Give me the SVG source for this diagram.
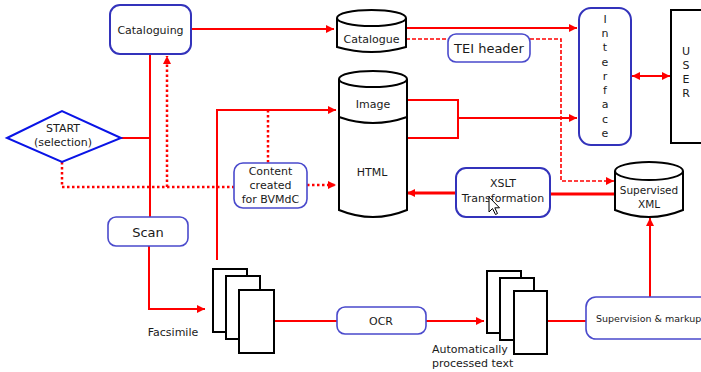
<svg xmlns="http://www.w3.org/2000/svg" width="701" height="372" viewBox="0 0 701 372">
<style>
text{font-family:"DejaVu Sans","Liberation Sans",sans-serif;font-size:11px;fill:#1a1a1a;text-anchor:middle}
.box{fill:#fff;stroke:#3333bb;stroke-width:2}
.lbox{fill:#fff;stroke:#4a4acc;stroke-width:1.6}
.cyl{fill:#fff;stroke:#000;stroke-width:2}
.page{fill:#fff;stroke:#000;stroke-width:2}
.r{fill:none;stroke:#ff0000;stroke-width:2}
.rt{fill:none;stroke:#ff0000;stroke-width:3}
.dot{fill:none;stroke:#ff0000;stroke-width:2.5;stroke-dasharray:2.5,2.5}
.dash{fill:none;stroke:#ff0000;stroke-width:1.6;stroke-dasharray:4,2}
</style>
<defs>
<marker id="a" viewBox="0 0 10 10" refX="10" refY="5" markerWidth="9" markerHeight="8" markerUnits="userSpaceOnUse" orient="auto-start-reverse">
<path d="M0,0 L10,5 L0,10 z" fill="#ff0000"/>
</marker>
</defs>

<g id="connectors">
<path class="r" d="M191,29 H334" marker-end="url(#a)"/>
<path class="r" d="M406,28 H577" marker-end="url(#a)"/>
<path class="dash" d="M406,39 H448"/>
<path class="dash" d="M530,39 H561 V181 H614" marker-end="url(#a)"/>
<path class="r" d="M407,100 H458 V138 H407"/>
<path class="r" d="M458,118 H577" marker-end="url(#a)"/>
<path class="r" d="M632,76 H670" marker-start="url(#a)" marker-end="url(#a)"/>
<path class="r" d="M121,138 H150"/>
<path class="r" d="M150,54 V217"/>
<path class="dot" d="M62,162 V187 H234"/>
<path class="dot" d="M167,187 V56" marker-end="url(#a)"/>
<path class="r" d="M217,260 V110 H336" marker-end="url(#a)"/>
<path class="dot" d="M268,110 V163"/>
<path class="dot" d="M307,185 H336" marker-end="url(#a)"/>
<path class="r" d="M149,246 V309 H205" marker-end="url(#a)"/>
<path class="r" d="M274,321 H337"/>
<path class="r" d="M426,321 H484" marker-end="url(#a)"/>
<path class="r" d="M547,321 H586"/>
<path class="r" d="M650,297 V218" marker-end="url(#a)"/>
<path class="rt" d="M615,194 H550"/>
<path class="rt" d="M456,193 H407" marker-end="url(#a)"/>
</g>

<g id="cataloguing">
<rect class="box" x="110" y="5" width="81" height="49" rx="10"/>
<text x="150.5" y="33.5">Cataloguing</text>
</g>

<g id="start">
<polygon points="7,138 62,111 121,138 62,162" fill="#fff" stroke="#0a14e6" stroke-width="2"/>
<text x="63" y="132">START</text>
<text x="63" y="146">(selection)</text>
</g>

<g id="catalogue">
<path class="cyl" d="M337,18 A34.5,8 0 0,1 406,18 V47 Q371.5,57 337,47 Z"/>
<path class="cyl" fill="none" d="M337,18 A34.5,8 0 0,0 406,18"/>
<text x="371.5" y="43">Catalogue</text>
</g>

<g id="tei-header">
<rect class="lbox" x="448" y="34" width="82" height="28" rx="8"/>
<text x="489" y="53" style="font-size:13px">TEI header</text>
</g>

<g id="image-html">
<path class="cyl" d="M339,79 A34,8 0 0,1 407,79 V210 Q373,224 339,210 Z"/>
<path class="cyl" fill="none" d="M339,79 A34,8 0 0,0 407,79"/>
<path class="cyl" fill="none" d="M339,117 Q373,129 407,117"/>
<text x="373" y="108">Image</text>
<text x="372" y="176">HTML</text>
</g>

<g id="interface">
<rect class="box" x="579" y="8" width="52" height="137" rx="12"/>
<text x="605" y="23">I</text>
<text x="605" y="37">n</text>
<text x="605" y="51">t</text>
<text x="605" y="66">e</text>
<text x="605" y="80">r</text>
<text x="605" y="94">f</text>
<text x="605" y="108">a</text>
<text x="605" y="123">c</text>
<text x="605" y="137">e</text>
</g>

<g id="user">
<rect x="671" y="10" width="40" height="133" fill="#fff" stroke="#000" stroke-width="2"/>
<text x="686" y="55">U</text>
<text x="686" y="69">S</text>
<text x="686" y="83">E</text>
<text x="686" y="97">R</text>
</g>

<g id="content-created">
<rect class="lbox" x="234" y="163" width="73" height="45" rx="9"/>
<text x="270.5" y="175">Content</text>
<text x="270.5" y="189">created</text>
<text x="270.5" y="203">for BVMdC</text>
</g>

<g id="xslt">
<rect class="box" x="456" y="168" width="94" height="49" rx="10"/>
<text x="503" y="187">XSLT</text>
<text x="503" y="202">Transformation</text>
<path d="M489,197 V212 L492.5,208.5 L495.5,214.5 L497.5,213.5 L494.8,207.8 L499.5,207.8 Z" fill="#fff" stroke="#000" stroke-width="1"/>
</g>

<g id="supervised-xml">
<path class="cyl" d="M615,171 A34,9 0 0,1 683,171 V210 Q649,224 615,210 Z"/>
<path class="cyl" fill="none" d="M615,171 A34,9 0 0,0 683,171"/>
<text x="649" y="194" style="font-size:10.5px">Supervised</text>
<text x="649" y="208" style="font-size:10.5px">XML</text>
</g>

<g id="scan">
<rect class="lbox" x="108" y="217" width="80" height="29" rx="8"/>
<text x="148" y="236.5" style="font-size:13px">Scan</text>
</g>

<g id="facsimile">
<rect class="page" x="213" y="269" width="34" height="63"/>
<rect class="page" x="226" y="276" width="34" height="63"/>
<rect class="page" x="239" y="290" width="35" height="63"/>
<text x="173" y="336">Facsimile</text>
</g>

<g id="ocr">
<rect class="lbox" x="337" y="307" width="89" height="27" rx="8"/>
<text x="381" y="324.5">OCR</text>
</g>

<g id="auto-text">
<rect class="page" x="487" y="271" width="34" height="62"/>
<rect class="page" x="500" y="278" width="34" height="62"/>
<rect class="page" x="514" y="291" width="33" height="63"/>
<text x="432" y="353" style="text-anchor:start">Automatically</text>
<text x="432" y="367" style="text-anchor:start">processed text</text>
</g>

<g id="supervision">
<rect class="lbox" x="586" y="297" width="130" height="42" rx="10"/>
<text x="596" y="322" style="text-anchor:start;font-size:9.5px">Supervision &amp; markup</text>
</g>
</svg>
